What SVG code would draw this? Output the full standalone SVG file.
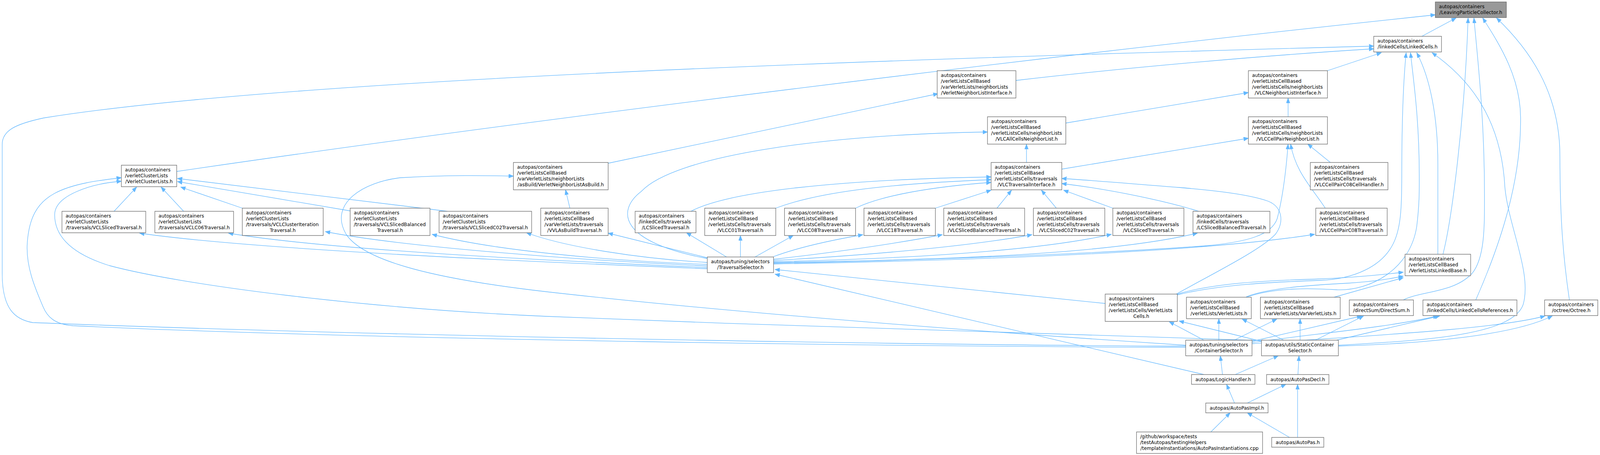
<svg xmlns="http://www.w3.org/2000/svg" width="4391" height="1165" viewBox="0 0 4391 1165">
<defs>
<marker id="ah" markerWidth="14" markerHeight="11" refX="13" refY="5" orient="auto" markerUnits="userSpaceOnUse"><path d="M0,0 L13,5 L0,10 z" fill="#63b8ff" stroke="#63b8ff" stroke-width="1"/></marker>
</defs>
<style>
.node rect{fill:#ffffff;stroke:#666666;stroke-width:1.3}
.node.hl rect{fill:#999999}
.node text{font-family:"DejaVu Sans",sans-serif;font-size:13px;fill:#000000}
.node text.m{text-anchor:middle}
.edges path{fill:none;stroke:#63b8ff;stroke-width:1.3;marker-end:url(#ah)}
</style>
<rect width="4391" height="1165" fill="#ffffff"/>
<g id="graph" transform="scale(0.93282,1)">
<g id="edges" class="edges">
<path d="M485,439 C1500,300 2900,140 3939,38"/>
<path d="M3902,93 L3996,46"/>
<path d="M3960,651 C3985,560 4020,300 4029,46"/>
<path d="M3851,768 C3900,745 3990,750 4040,700 C4075,660 4074,580 4074,500 C4074,300 4055,150 4045,46"/>
<path d="M4050,768 C4120,620 4175,460 4173,300 C4172,200 4120,120 4069,46"/>
<path d="M4307,768 C4290,660 4281,560 4281,400 C4281,230 4190,120 4107,46"/>
<path d="M3643,181 L3791,135"/>
<path d="M2788,206 C3100,172 3500,140 3770,125"/>
<path d="M3254,886 C2800,886 1200,866 90,826 C40,818 6,790 6,700 L6,370 C6,335 40,318 120,302 C800,200 2500,150 3770,118"/>
<path d="M3254,889 C2600,889 1000,870 200,834 C150,830 130,812 118,785 C95,735 70,680 75,620 C80,560 100,520 150,495 C200,470 270,462 333,455"/>
<path d="M3462,872 C3000,856 2200,838 1500,810 C1000,790 500,730 300,680 C180,645 150,595 150,550 C150,500 250,470 333,464"/>
<path d="M3255,884 C2700,850 2000,800 1500,747 C1200,715 1000,670 950,600 C900,520 1000,465 1100,455 C1250,447 1350,450 1409,451"/>
<path d="M3673,884 C3900,872 4150,860 4180,780 C4205,700 4140,580 4130,480 C4120,300 4030,200 3930,135"/>
<path d="M3946,651 L3946,420 C3946,300 3925,200 3888,135"/>
<path d="M3231,755 C3350,728 3500,722 3620,718 C3720,715 3790,680 3820,630 C3845,590 3847,530 3847,450 C3847,300 3852,200 3859,135"/>
<path d="M3420,761 C3500,735 3600,738 3670,742 C3760,745 3870,690 3888,580 C3896,520 3895,480 3895,450 C3895,300 3878,200 3871,135"/>
<path d="M2925,315 L3426,237"/>
<path d="M3535,299 L3535,251"/>
<path d="M2914,433 L3426,354"/>
<path d="M3651,416 L3589,369"/>
<path d="M3637,533 C3600,480 3555,440 3542,369"/>
<path d="M2123,674 C2600,664 3000,650 3300,630 C3430,620 3490,600 3505,560 C3522,500 3530,430 3535,369"/>
<path d="M2817,416 L2817,369"/>
<path d="M1669,418 L2574,240"/>
<path d="M1564,533 L1552,486"/>
<path d="M1941,662 C1700,620 1690,540 1760,490 C1850,400 2250,345 2710,338"/>
<path d="M3228,753 C3330,700 3460,640 3500,600 C3525,570 3520,530 3480,515 C3420,495 3300,485 3236,480 C3100,470 3000,462 2914,457"/>
<path d="M3290,541 C3200,515 3050,485 2914,470"/>
<path d="M3054,533 L2919,487"/>
<path d="M2899,533 L2858,487"/>
<path d="M2736,533 L2776,487"/>
<path d="M2567,533 L2720,487"/>
<path d="M2348,533 C2420,500 2560,478 2720,467"/>
<path d="M2129,533 C2250,490 2450,470 2720,460"/>
<path d="M1896,541 C2000,490 2300,460 2720,453"/>
<path d="M1941,660 L1669,597"/>
<path d="M1994,658 L1884,596"/>
<path d="M2032,658 L2032,603"/>
<path d="M2072,658 L2177,603"/>
<path d="M2123,657 C2200,630 2300,612 2368,601"/>
<path d="M2123,664 C2300,645 2450,625 2586,601"/>
<path d="M2123,667 C2400,652 2650,632 2832,601"/>
<path d="M2123,670 C2500,662 2850,642 3050,600"/>
<path d="M2123,672 C2600,666 3050,650 3286,597"/>
<path d="M2123,676 C2700,666 3300,645 3608,600"/>
<path d="M1941,688 C1500,672 700,640 383,597"/>
<path d="M1941,685 C1500,667 900,640 627,597"/>
<path d="M1941,681 C1600,667 1100,632 893,593"/>
<path d="M1941,677 C1650,667 1350,640 1186,600"/>
<path d="M1941,672 C1750,662 1550,632 1445,596"/>
<path d="M3033,777 L2127,690"/>
<path d="M3304,959 L2127,702"/>
<path d="M313,541 L375,479"/>
<path d="M504,541 L442,479"/>
<path d="M665,533 L496,479"/>
<path d="M961,540 L487,465"/>
<path d="M1228,541 L487,457"/>
<path d="M3304,871 L3209,824"/>
<path d="M3462,874 L3236,822"/>
<path d="M3345,871 L3345,816"/>
<path d="M3523,871 L3409,817"/>
<path d="M3387,871 L3504,817"/>
<path d="M3568,871 L3568,816"/>
<path d="M3436,874 L3737,809"/>
<path d="M3610,871 L3742,809"/>
<path d="M3436,877 C3600,855 3800,840 3946,809"/>
<path d="M3668,871 L3951,809"/>
<path d="M3436,880 C3700,862 4100,845 4240,809"/>
<path d="M3673,886 C3900,880 4150,860 4260,809"/>
<path d="M3231,753 C3330,725 3480,718 3600,715 C3700,712 3780,705 3851,697"/>
<path d="M3420,760 C3480,737 3600,730 3700,725 C3780,720 3820,713 3851,707"/>
<path d="M3661,761 L3851,711"/>
<path d="M3355,959 L3349,911"/>
<path d="M3390,959 L3508,911"/>
<path d="M3562,959 L3565,911"/>
<path d="M3388,1032 L3366,984"/>
<path d="M3423,1032 L3529,984"/>
<path d="M3323,1106 L3376,1057"/>
<path d="M3539,1120 L3423,1057"/>
<path d="M3561,1120 L3561,984"/>
</g>
<g id="nodes">
<g id="n1" class="node hl"><rect x="3939" y="5" width="195" height="40"/><text x="3949" y="21">autopas/containers</text><text class="m" x="4036.5" y="36">/LeavingParticleCollector.h</text></g>
<g id="n2" class="node"><rect x="3770" y="93" width="186" height="40"/><text x="3780" y="109">autopas/containers</text><text class="m" x="3863" y="124">/linkedCells/LinkedCells.h</text></g>
<g id="n3" class="node"><rect x="2572" y="181" width="216" height="70"/><text x="2582" y="197">autopas/containers</text><text x="2582" y="212">/verletListsCellBased</text><text x="2582" y="227">/varVerletLists/neighborLists</text><text class="m" x="2680" y="242">/VerletNeighborListInterface.h</text></g>
<g id="n4" class="node"><rect x="3426" y="181" width="217" height="70"/><text x="3436" y="197">autopas/containers</text><text x="3436" y="212">/verletListsCellBased</text><text x="3436" y="227">/verletListsCells/neighborLists</text><text class="m" x="3534.5" y="242">/VLCNeighborListInterface.h</text></g>
<g id="n5" class="node"><rect x="2710" y="299" width="215" height="70"/><text x="2720" y="315">autopas/containers</text><text x="2720" y="330">/verletListsCellBased</text><text x="2720" y="345">/verletListsCells/neighborLists</text><text class="m" x="2817.5" y="360">/VLCAllCellsNeighborList.h</text></g>
<g id="n6" class="node"><rect x="3426" y="299" width="217" height="70"/><text x="3436" y="315">autopas/containers</text><text x="3436" y="330">/verletListsCellBased</text><text x="3436" y="345">/verletListsCells/neighborLists</text><text class="m" x="3534.5" y="360">/VLCCellPairNeighborList.h</text></g>
<g id="n7" class="node"><rect x="2720" y="416" width="194" height="70"/><text x="2730" y="432">autopas/containers</text><text x="2730" y="447">/verletListsCellBased</text><text x="2730" y="462">/verletListsCells/traversals</text><text class="m" x="2817" y="477">/VLCTraversalInterface.h</text></g>
<g id="n8" class="node"><rect x="333" y="423" width="152" height="55"/><text x="343" y="439">autopas/containers</text><text x="343" y="454">/verletClusterLists</text><text class="m" x="409" y="469">/VerletClusterLists.h</text></g>
<g id="n9" class="node"><rect x="1409" y="416" width="260" height="70"/><text x="1419" y="432">autopas/containers</text><text x="1419" y="447">/verletListsCellBased</text><text x="1419" y="462">/varVerletLists/neighborLists</text><text class="m" x="1539" y="477">/asBuild/VerletNeighborListAsBuild.h</text></g>
<g id="n10" class="node"><rect x="3596" y="416" width="213" height="70"/><text x="3606" y="432">autopas/containers</text><text x="3606" y="447">/verletListsCellBased</text><text x="3606" y="462">/verletListsCells/traversals</text><text class="m" x="3702.5" y="477">/VLCCellPairC08CellHandler.h</text></g>
<g id="n11" class="node"><rect x="170" y="541" width="230" height="55"/><text x="180" y="557">autopas/containers</text><text x="180" y="572">/verletClusterLists</text><text class="m" x="285" y="587">/traversals/VCLSlicedTraversal.h</text></g>
<g id="n12" class="node"><rect x="425" y="541" width="216" height="55"/><text x="435" y="557">autopas/containers</text><text x="435" y="572">/verletClusterLists</text><text class="m" x="533" y="587">/traversals/VCLC06Traversal.h</text></g>
<g id="n13" class="node"><rect x="665" y="533" width="222" height="70"/><text x="675" y="549">autopas/containers</text><text x="675" y="564">/verletClusterLists</text><text x="675" y="579">/traversals/VCLClusterIteration</text><text class="m" x="776" y="594">Traversal.h</text></g>
<g id="n14" class="node"><rect x="961" y="533" width="219" height="70"/><text x="971" y="549">autopas/containers</text><text x="971" y="564">/verletClusterLists</text><text x="971" y="579">/traversals/VCLSlicedBalanced</text><text class="m" x="1070.5" y="594">Traversal.h</text></g>
<g id="n15" class="node"><rect x="1205" y="541" width="254" height="55"/><text x="1215" y="557">autopas/containers</text><text x="1215" y="572">/verletClusterLists</text><text class="m" x="1332" y="587">/traversals/VCLSlicedC02Traversal.h</text></g>
<g id="n16" class="node"><rect x="1484" y="533" width="185" height="70"/><text x="1494" y="549">autopas/containers</text><text x="1494" y="564">/verletListsCellBased</text><text x="1494" y="579">/varVerletLists/traversals</text><text class="m" x="1576.5" y="594">/VVLAsBuildTraversal.h</text></g>
<g id="n17" class="node"><rect x="1743" y="541" width="167" height="55"/><text x="1753" y="557">autopas/containers</text><text x="1753" y="572">/linkedCells/traversals</text><text class="m" x="1826.5" y="587">/LCSlicedTraversal.h</text></g>
<g id="n18" class="node"><rect x="1934" y="533" width="195" height="70"/><text x="1944" y="549">autopas/containers</text><text x="1944" y="564">/verletListsCellBased</text><text x="1944" y="579">/verletListsCells/traversals</text><text class="m" x="2031.5" y="594">/VLCC01Traversal.h</text></g>
<g id="n19" class="node"><rect x="2153" y="533" width="195" height="70"/><text x="2163" y="549">autopas/containers</text><text x="2163" y="564">/verletListsCellBased</text><text x="2163" y="579">/verletListsCells/traversals</text><text class="m" x="2250.5" y="594">/VLCC08Traversal.h</text></g>
<g id="n20" class="node"><rect x="2371" y="533" width="196" height="70"/><text x="2381" y="549">autopas/containers</text><text x="2381" y="564">/verletListsCellBased</text><text x="2381" y="579">/verletListsCells/traversals</text><text class="m" x="2469" y="594">/VLCC18Traversal.h</text></g>
<g id="n21" class="node"><rect x="2590" y="533" width="222" height="70"/><text x="2600" y="549">autopas/containers</text><text x="2600" y="564">/verletListsCellBased</text><text x="2600" y="579">/verletListsCells/traversals</text><text class="m" x="2701" y="594">/VLCSlicedBalancedTraversal.h</text></g>
<g id="n22" class="node"><rect x="2836" y="533" width="196" height="70"/><text x="2846" y="549">autopas/containers</text><text x="2846" y="564">/verletListsCellBased</text><text x="2846" y="579">/verletListsCells/traversals</text><text class="m" x="2934" y="594">/VLCSlicedC02Traversal.h</text></g>
<g id="n23" class="node"><rect x="3054" y="533" width="195" height="70"/><text x="3064" y="549">autopas/containers</text><text x="3064" y="564">/verletListsCellBased</text><text x="3064" y="579">/verletListsCells/traversals</text><text class="m" x="3151.5" y="594">/VLCSlicedTraversal.h</text></g>
<g id="n24" class="node"><rect x="3274" y="541" width="211" height="55"/><text x="3284" y="557">autopas/containers</text><text x="3284" y="572">/linkedCells/traversals</text><text class="m" x="3379.5" y="587">/LCSlicedBalancedTraversal.h</text></g>
<g id="n25" class="node"><rect x="3611" y="533" width="196" height="70"/><text x="3621" y="549">autopas/containers</text><text x="3621" y="564">/verletListsCellBased</text><text x="3621" y="579">/verletListsCells/traversals</text><text class="m" x="3709" y="594">/VLCCellPairC08Traversal.h</text></g>
<g id="n26" class="node"><rect x="1941" y="658" width="182" height="40"/><text x="1951" y="674">autopas/tuning/selectors</text><text class="m" x="2032" y="689">/TraversalSelector.h</text></g>
<g id="n27" class="node"><rect x="3856" y="651" width="180" height="55"/><text x="3866" y="667">autopas/containers</text><text x="3866" y="682">/verletListsCellBased</text><text class="m" x="3946" y="697">/VerletListsLinkedBase.h</text></g>
<g id="n28" class="node"><rect x="3033" y="753" width="198" height="70"/><text x="3043" y="769">autopas/containers</text><text x="3043" y="784">/verletListsCellBased</text><text x="3043" y="799">/verletListsCells/VerletLists</text><text class="m" x="3132" y="814">Cells.h</text></g>
<g id="n29" class="node"><rect x="3256" y="761" width="178" height="55"/><text x="3266" y="777">autopas/containers</text><text x="3266" y="792">/verletListsCellBased</text><text class="m" x="3345" y="807">/verletLists/VerletLists.h</text></g>
<g id="n30" class="node"><rect x="3459" y="761" width="219" height="55"/><text x="3469" y="777">autopas/containers</text><text x="3469" y="792">/verletListsCellBased</text><text class="m" x="3568.5" y="807">/varVerletLists/VarVerletLists.h</text></g>
<g id="n31" class="node"><rect x="3703" y="768" width="176" height="40"/><text x="3713" y="784">autopas/containers</text><text class="m" x="3791" y="799">/directSum/DirectSum.h</text></g>
<g id="n32" class="node"><rect x="3905" y="768" width="258" height="40"/><text x="3915" y="784">autopas/containers</text><text class="m" x="4034" y="799">/linkedCells/LinkedCellsReferences.h</text></g>
<g id="n33" class="node"><rect x="4239" y="768" width="146" height="40"/><text x="4249" y="784">autopas/containers</text><text class="m" x="4312" y="799">/octree/Octree.h</text></g>
<g id="n34" class="node"><rect x="3254" y="871" width="182" height="40"/><text x="3264" y="887">autopas/tuning/selectors</text><text class="m" x="3345" y="902">/ContainerSelector.h</text></g>
<g id="n35" class="node"><rect x="3462" y="871" width="211" height="40"/><text x="3472" y="887">autopas/utils/StaticContainer</text><text class="m" x="3567.5" y="902">Selector.h</text></g>
<g id="n36" class="node"><rect x="3270" y="959" width="174" height="25"/><text class="m" x="3357" y="976">autopas/LogicHandler.h</text></g>
<g id="n37" class="node"><rect x="3476" y="959" width="171" height="25"/><text class="m" x="3561.5" y="976">autopas/AutoPasDecl.h</text></g>
<g id="n38" class="node"><rect x="3309" y="1032" width="171" height="25"/><text class="m" x="3394.5" y="1049">autopas/AutoPasImpl.h</text></g>
<g id="n39" class="node"><rect x="3119" y="1106" width="346" height="55"/><text x="3129" y="1122">/github/workspace/tests</text><text x="3129" y="1137">/testAutopas/testingHelpers</text><text class="m" x="3292" y="1152">/templateInstantiations/AutoPasInstantiations.cpp</text></g>
<g id="n40" class="node"><rect x="3490" y="1120" width="143" height="25"/><text class="m" x="3561.5" y="1137">autopas/AutoPas.h</text></g>
</g>
</g>
</svg>
